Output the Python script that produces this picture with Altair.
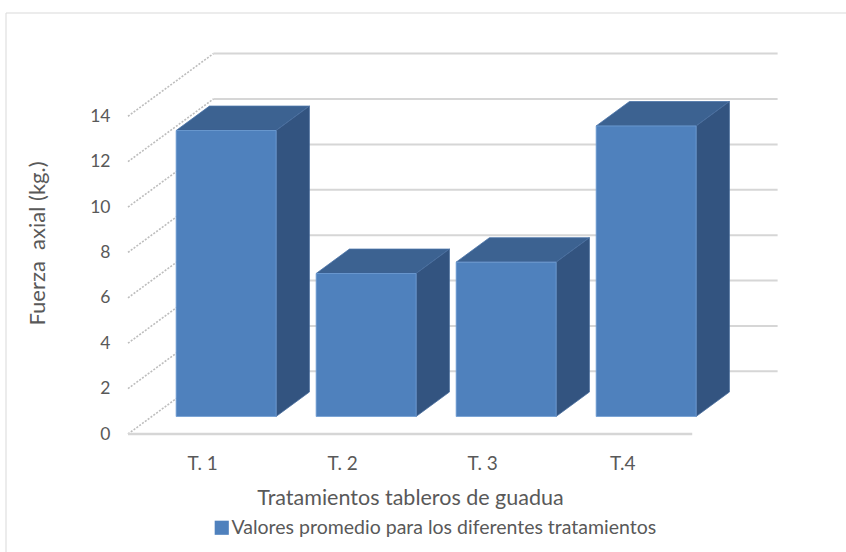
import json
import altair as alt
import pandas as pd

# Average axial force per treatment (kg)
categories = ["T. 1", "T. 2", "T. 3", "T.4"]
values = [12.6, 6.3, 6.8, 12.8]
y_ticks = [0, 2, 4, 6, 8, 10, 12, 14]
series_name = "Valores promedio para los diferentes tratamientos"

# Oblique 3-D projection: a point at depth d (0 = front of floor, 1 = back wall)
# is shifted by d*DU category units to the right and d*DV value units upward.
DU = 0.61
DV = 2.76
D_FRONT = 0.28       # depth of the bar front faces
D_BACK = 0.67        # depth of the bar back faces
HALF_W = 0.357       # half bar width, category units
FLOOR_L = -0.53      # floor extent along the category axis
FLOOR_R = 3.5

PLOT_W, PLOT_H = 680, 394
x_scale = alt.Scale(domain=[-0.53, 4.327], nice=False, zero=False)
y_scale = alt.Scale(domain=[0, 17.36], nice=False, zero=False)

FONT = "Lato"
GREY = "#595959"

x_axis = alt.Axis(
    values=list(range(len(categories))),
    labelExpr=json.dumps(categories) + "[datum.value]",
    title="Tratamientos tableros de guadua",
    domain=False, ticks=False, grid=False, tickSize=0,
    labelPadding=20, labelFontSize=19, labelFont=FONT, labelColor=GREY,
    titleFontSize=21.5, titleFont=FONT, titleColor=GREY, titleFontWeight="normal",
    titleX=282, titleY=70, titleBaseline="alphabetic", zindex=1,
)
y_axis = alt.Axis(
    values=y_ticks,
    title="Fuerza\u00a0 axial (kg.)",
    domain=False, ticks=False, grid=False, tickSize=0,
    labelPadding=18, labelFontSize=17.5, labelFont=FONT, labelColor=GREY,
    titleFontSize=22, titleFont=FONT, titleColor=GREY, titleFontWeight="normal",
    titleX=-91, titleY=203, titleBaseline="middle", titleAngle=270, zindex=1,
)


def X(field):
    return alt.X(field, type="quantitative", scale=x_scale, axis=x_axis)


def Y(field):
    return alt.Y(field, type="quantitative", scale=y_scale, axis=y_axis)


# --- walls and floor -------------------------------------------------------
grid_df = pd.DataFrame({
    "x": [FLOOR_L + DU] * len(y_ticks),
    "x2": [FLOOR_R + DU] * len(y_ticks),
    "y": [t + DV for t in y_ticks],
})
side_df = pd.DataFrame({
    "x": [FLOOR_L] * len(y_ticks),
    "x2": [FLOOR_L + DU] * len(y_ticks),
    "y": [float(t) for t in y_ticks],
    "y2": [t + DV for t in y_ticks],
})
floor_df = pd.DataFrame({"x": [FLOOR_L], "x2": [FLOOR_R], "y": [0.0]})

back_grid = alt.Chart(grid_df).mark_rule(color="#d6d6d6", strokeWidth=2).encode(
    x=X("x"), x2="x2", y=Y("y")
)
side_grid = alt.Chart(side_df).mark_rule(
    color="#bdbdbd", strokeWidth=1.6, strokeDash=[2, 1.5]
).encode(x=X("x"), x2="x2", y=Y("y"), y2="y2")
floor_edge = alt.Chart(floor_df).mark_rule(color="#d6d6d6", strokeWidth=2.5).encode(
    x=X("x"), x2="x2", y=Y("y")
)

# --- bars ------------------------------------------------------------------
front_rows, side_rows, top_rows = [], [], []
for i, (cat, val) in enumerate(zip(categories, values)):
    front_rows.append({
        "cat": cat, "serie": series_name,
        "x": i - HALF_W + D_FRONT * DU, "x2": i + HALF_W + D_FRONT * DU,
        "y": D_FRONT * DV, "y2": val + D_FRONT * DV,
    })
    for d in (D_FRONT, D_BACK):
        side_rows.append({
            "cat": cat, "x": i + HALF_W + d * DU,
            "y": d * DV, "y2": val + d * DV,
        })
        top_rows.append({
            "cat": cat, "y": val + d * DV,
            "x": i - HALF_W + d * DU, "x2": i + HALF_W + d * DU,
        })

front_df = pd.DataFrame(front_rows)
side_face_df = pd.DataFrame(side_rows)
top_df = pd.DataFrame(top_rows)

top_face = alt.Chart(top_df).mark_area(
    orient="horizontal", color="#3c6291", stroke="#4a74a8", strokeWidth=0.8
).encode(y=Y("y"), x=X("x"), x2="x2", detail="cat:N")

side_face = alt.Chart(side_face_df).mark_area(
    orient="vertical", color="#335480", stroke="#4a6f9e", strokeWidth=0.8
).encode(x=X("x"), y=Y("y"), y2="y2", detail="cat:N")

front_face = alt.Chart(front_df).mark_rect(stroke="#6f9dd3", strokeWidth=0.8).encode(
    x=X("x"), x2="x2", y=Y("y"), y2="y2",
    color=alt.Color(
        "serie:N",
        scale=alt.Scale(range=["#4f81bd"]),
        legend=alt.Legend(
            title=None, orient="none", legendX=84, legendY=478,
            symbolType="square", symbolSize=200, symbolStrokeWidth=0,
            labelFont=FONT, labelFontSize=19.5, labelColor=GREY,
            labelOffset=0, padding=0, labelLimit=0,
        ),
    ),
)

# light frame around the whole chart
frame = alt.Chart(pd.DataFrame({"k": [0]})).mark_rect(
    fillOpacity=0, stroke="#d9d9d9", strokeWidth=1
).encode(
    x=alt.value(-122), x2=alt.value(PLOT_W + 60),
    y=alt.value(-27), y2=alt.value(PLOT_H + 140),
)

chart = alt.layer(
    frame, back_grid, side_grid, floor_edge, top_face, side_face, front_face
).properties(
    width=PLOT_W, height=PLOT_H,
    background="white",
    autosize=alt.AutoSizeParams(type="none"),
    padding={"left": 128, "top": 40, "right": 846 - 128 - PLOT_W, "bottom": 552 - 40 - PLOT_H},
).configure_view(stroke=None)

chart.save("out.html", embed_options={"renderer": "svg", "actions": False})
